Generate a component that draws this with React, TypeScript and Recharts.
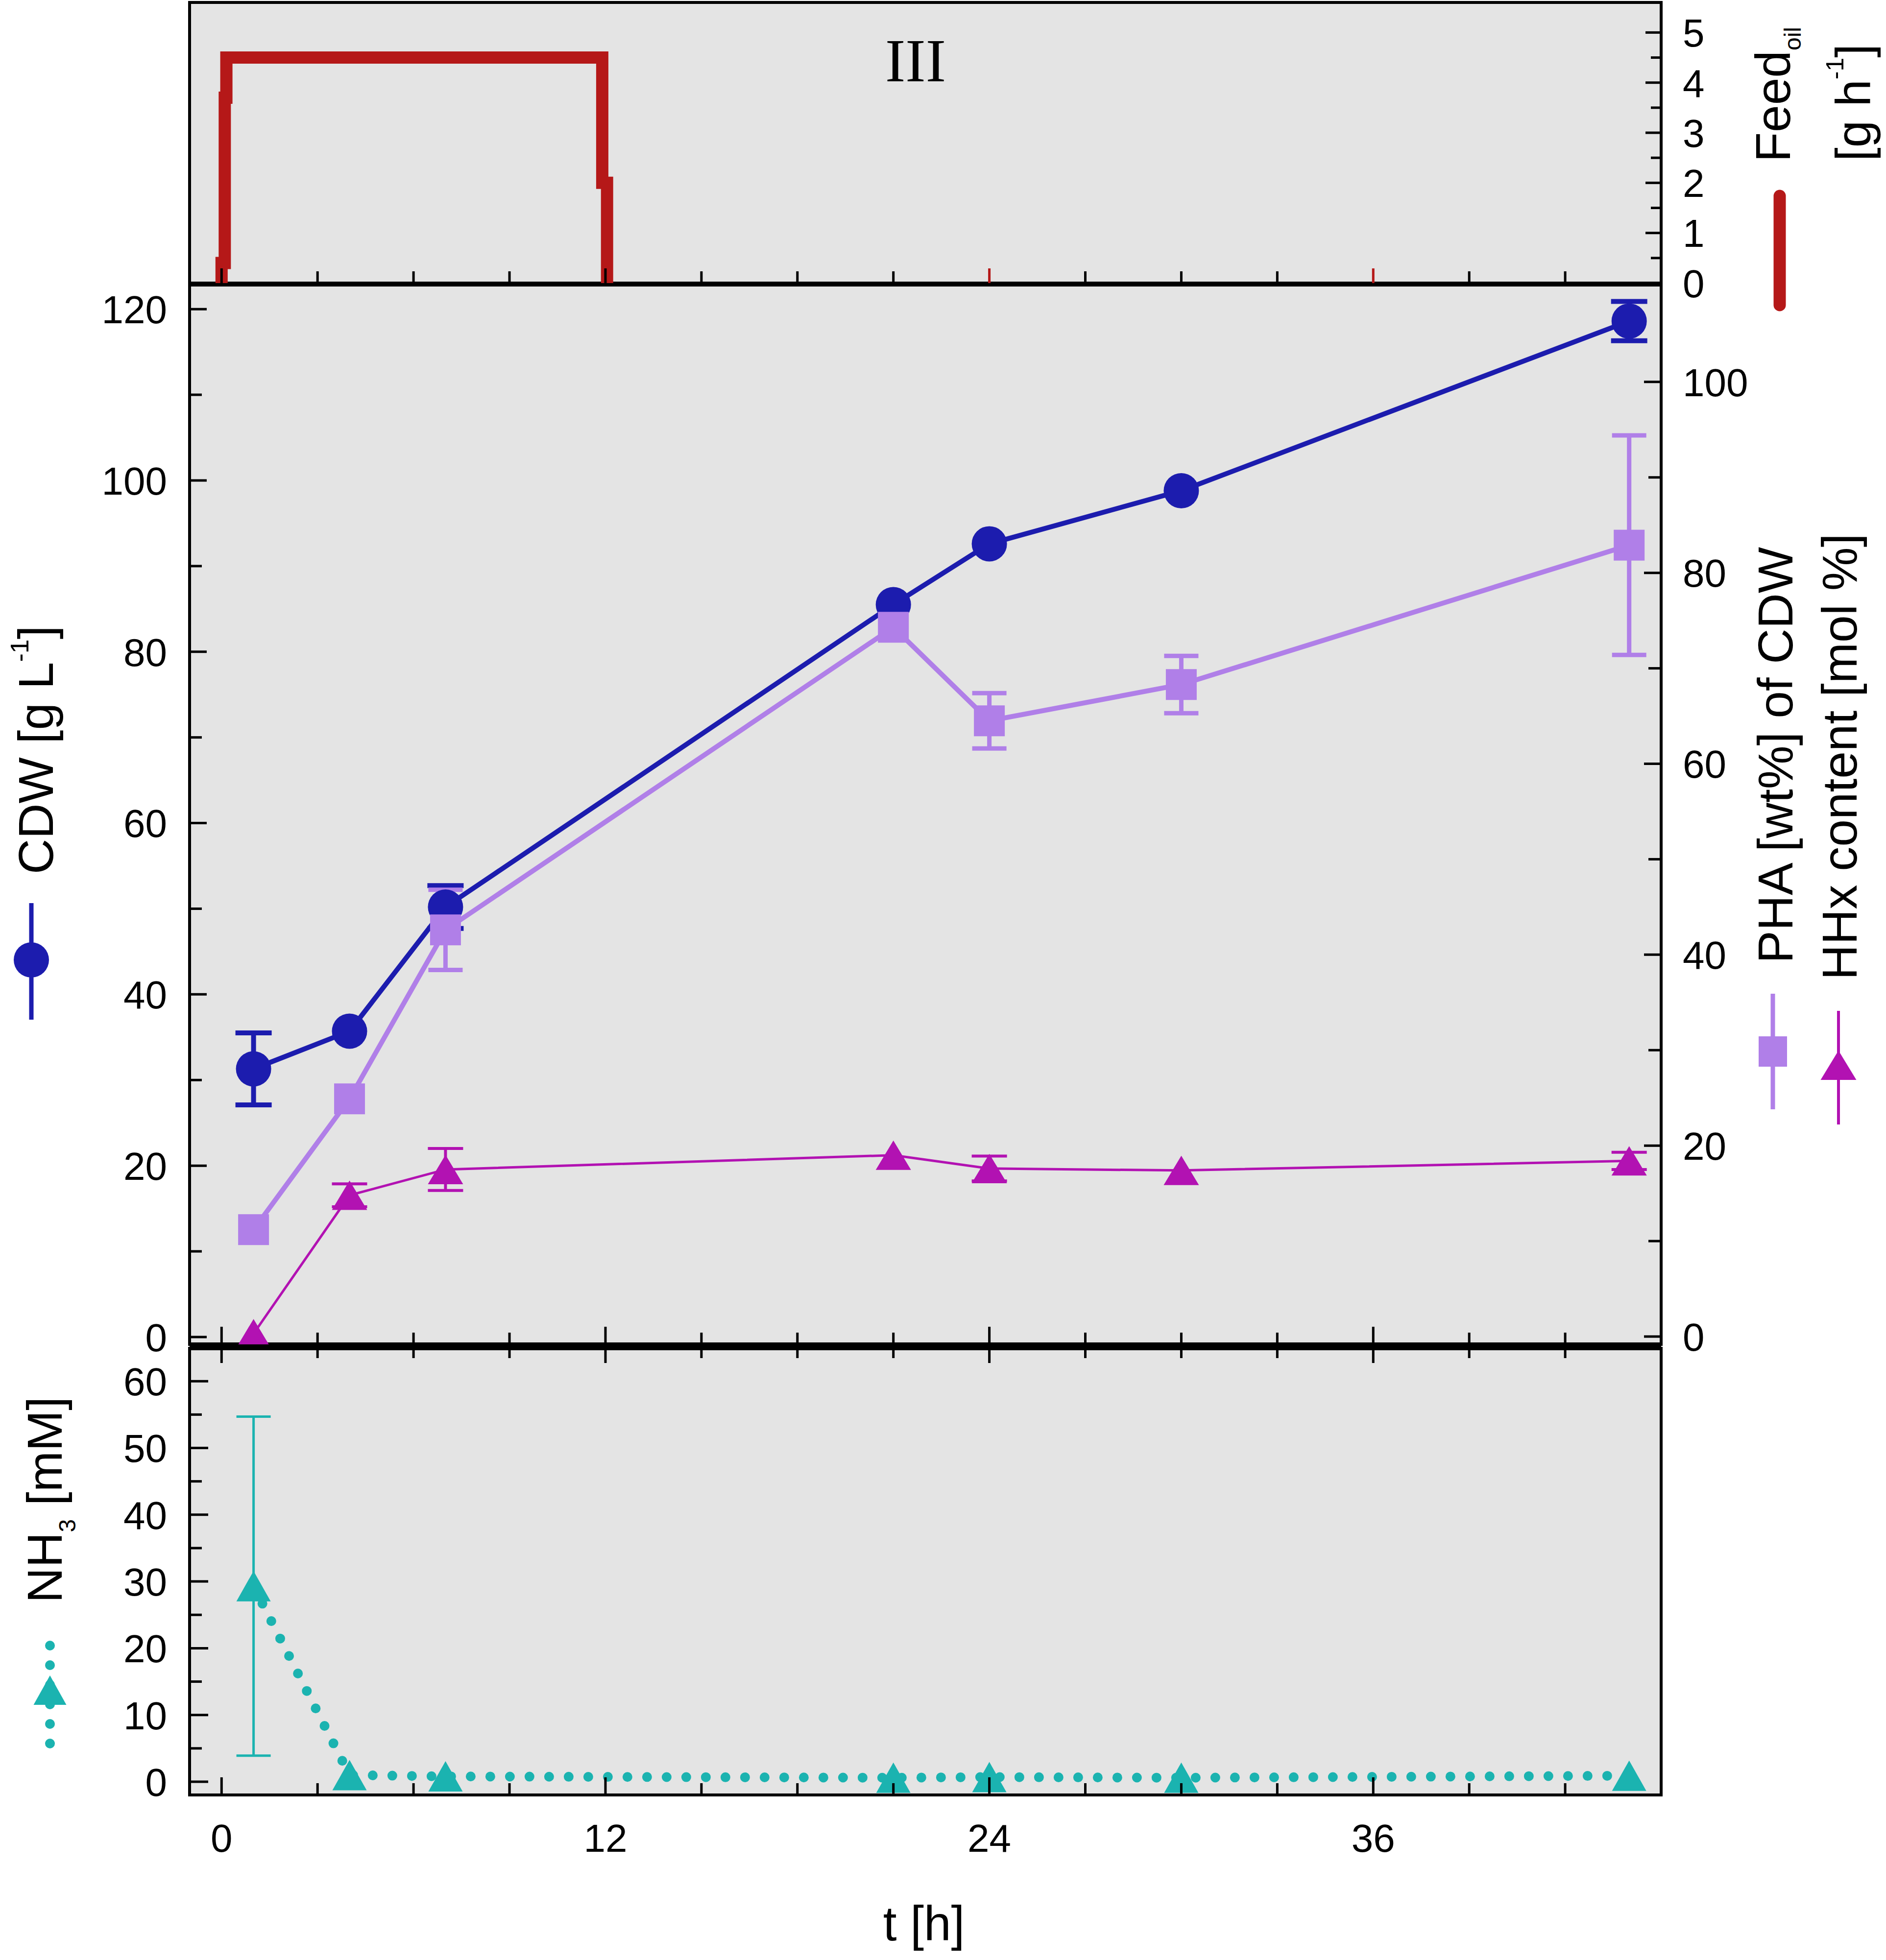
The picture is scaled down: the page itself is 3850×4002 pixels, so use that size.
import { ComposedChart, Line, XAxis, YAxis, CartesianGrid, ReferenceArea, ReferenceLine, ErrorBar } from 'recharts'

// sampling times [h] shared by all measured series
const TIMES = [1, 4, 7, 21, 24, 30, 44]
const CDW = [31.3, 35.7, 50.2, 85.5, 92.6, 98.8, 118.6]
const CDW_ERR = [4.2, null, 2.5, null, null, null, 2.3]
const PHA = [11.2, 24.9, 42.6, 74.3, 64.5, 68.3, 82.9]
const PHA_ERR = [null, null, 4.2, null, 2.9, 3.0, 11.5]
const HHX = [0.3, 14.8, 17.5, 19.0, 17.6, 17.4, 18.4]
const HHX_ERR = [null, 1.2, 2.2, null, 1.3, null, 0.9]
const NH3 = [29.3, 1.0, 0.8, 0.6, 0.7, 0.6, 0.9]
const NH3_ERR = [25.4, null, null, null, null, null, null]

// oil feed profile (step)
const FEED_T = [0, 0, 0.1, 0.1, 0.15, 0.15, 11.9, 11.9, 12.05, 12.05]
const FEED = [0, 0.4, 0.4, 3.7, 3.7, 4.5, 4.5, 2.0, 2.0, 0]

const X_TICKS = [0, 3, 6, 9, 12, 15, 18, 21, 24, 27, 30, 33, 36, 39, 42]
const X_DOMAIN = [-1, 45]
const FEED_TICKS = [0, 0.5, 1, 1.5, 2, 2.5, 3, 3.5, 4, 4.5, 5]
const FEED_DOMAIN = [0, 5.6]
const CDW_TICKS = [0, 10, 20, 30, 40, 50, 60, 70, 80, 90, 100, 110, 120]
const CDW_DOMAIN = [-0.86, 122.81]
const PCT_TICKS = [0, 10, 20, 30, 40, 50, 60, 70, 80, 90, 100]
const PCT_DOMAIN = [-0.82, 110.15]
const NH3_TICKS = [0, 5, 10, 15, 20, 25, 30, 35, 40, 45, 50, 55, 60]
const NH3_DOMAIN = [-1.98, 64.93]

const FONT = "'Liberation Sans', Arial, sans-serif"
const BLUE = '#1c1cae'
const LAV = '#b07fe8'
const MAG = '#b212b2'
const TEAL = '#1bb3b0'
const RED = '#b51818'
const BG = '#e4e4e4'

const feedRows = FEED_T.map((t, i) => ({ t, feed: FEED[i] }))
const midRows = TIMES.map((t, i) => ({
  t,
  cdw: CDW[i],
  cdwErr: CDW_ERR[i],
  pha: PHA[i],
  phaErr: PHA_ERR[i],
  hhx: HHX[i],
  hhxErr: HHX_ERR[i],
}))
const nh3Rows = TIMES.map((t, i) => ({ t, nh3: NH3[i], nh3Err: NH3_ERR[i] }))

type Side = 'bottom' | 'top' | 'left' | 'right'

// ticks point into the plot, labels sit outside
function makeTick(side: Side, isMajor: (v: number) => boolean, majorLen: number, minorLen: number,
  label: (v: number) => string | null, color: (v: number) => string = () => '#000') {
  return (p: any) => {
    const { x, y, payload } = p
    const v = payload.value
    const len = isMajor(v) ? majorLen : minorLen
    let x2 = x, y2 = y, tx = x, ty = y
    let anchor = 'middle'
    let dy = '0'
    if (side === 'bottom') { y2 = y - len; ty = y + 116 }
    if (side === 'top') { y2 = y + len }
    if (side === 'left') { x2 = x + len; tx = x - 46; anchor = 'end'; dy = '0.36em' }
    if (side === 'right') { x2 = x - len; tx = x + 44; anchor = 'start'; dy = '0.36em' }
    const txt = label(v)
    return (
      <g>
        <line x1={x} y1={y} x2={x2} y2={y2} stroke={color(v)} strokeWidth={5} />
        {txt !== null && (
          <text x={tx} y={ty} dy={dy} textAnchor={anchor} fontSize={80} fontFamily={FONT} fill="#000">{txt}</text>
        )}
      </g>
    )
  }
}

const noLabel = () => null
const every12 = (v: number) => v % 12 === 0

const squareDot = (color: string, size: number) => (p: any) => (
  <rect key={p.index} x={p.cx - size / 2} y={p.cy - size / 2} width={size} height={size} fill={color} />
)

const triDot = (color: string, w: number, h: number) => (p: any) => (
  <polygon key={p.index}
    points={`${p.cx},${p.cy - h / 2} ${p.cx - w / 2},${p.cy + h / 2} ${p.cx + w / 2},${p.cy + h / 2}`}
    fill={color} />
)

function Tri({ x, y, w, h, color }: { x: number; y: number; w: number; h: number; color: string }) {
  return <polygon points={`${x},${y - h / 2} ${x - w / 2},${y + h / 2} ${x + w / 2},${y + h / 2}`} fill={color} />
}

function FeedChart() {
  return (
    <ComposedChart width={3850} height={640} data={feedRows}
      margin={{ top: 5, right: 259, bottom: 52, left: 387 }}>
      <CartesianGrid yAxisId="r" horizontal={false} vertical={false} fill={BG} />
      <XAxis type="number" dataKey="t" domain={X_DOMAIN} ticks={X_TICKS} interval={0} height={10}
        tickSize={0} tickMargin={0} axisLine={false} tickLine={false} allowDataOverflow
        tick={makeTick('bottom', every12, 30, 24, noLabel, (v) => (v === 24 || v === 36 ? RED : '#000'))} />
      <YAxis yAxisId="r" orientation="right" type="number" domain={FEED_DOMAIN} ticks={FEED_TICKS} interval={0}
        width={200} tickSize={0} tickMargin={0} axisLine={false} tickLine={false} allowDataOverflow
        tick={makeTick('right', (v) => Number.isInteger(v), 32, 21, (v) => (Number.isInteger(v) ? String(v) : null))} />
      <Line yAxisId="r" type="linear" dataKey="feed" stroke={RED} strokeWidth={25} dot={false}
        strokeLinejoin="miter" isAnimationActive={false} />
      <ReferenceArea yAxisId="r" x1={X_DOMAIN[0]} x2={X_DOMAIN[1]} y1={FEED_DOMAIN[0]} y2={FEED_DOMAIN[1]}
        fill="none" stroke="#000" strokeWidth={6} ifOverflow="visible" />
    </ComposedChart>
  )
}

function MainChart() {
  return (
    <ComposedChart width={3850} height={2220} data={midRows}
      margin={{ top: 22, right: 259, bottom: 25, left: 187 }}>
      <CartesianGrid yAxisId="l" horizontal={false} vertical={false} fill={BG} />
      <XAxis type="number" dataKey="t" domain={X_DOMAIN} ticks={X_TICKS} interval={0} height={10}
        tickSize={0} tickMargin={0} axisLine={false} tickLine={false} allowDataOverflow
        tick={makeTick('bottom', every12, 36, 24, noLabel)} />
      <YAxis yAxisId="l" orientation="left" type="number" domain={CDW_DOMAIN} ticks={CDW_TICKS} interval={0}
        width={200} tickSize={0} tickMargin={0} axisLine={false} tickLine={false} allowDataOverflow
        tick={makeTick('left', (v) => v % 20 === 0, 35, 25, (v) => (v % 20 === 0 ? String(v) : null))} />
      <YAxis yAxisId="r" orientation="right" type="number" domain={PCT_DOMAIN} ticks={PCT_TICKS} interval={0}
        width={200} tickSize={0} tickMargin={0} axisLine={false} tickLine={false} allowDataOverflow
        tick={makeTick('right', (v) => v % 20 === 0, 35, 26, (v) => (v % 20 === 0 ? String(v) : null))} />
      <Line yAxisId="l" type="linear" dataKey="cdw" stroke={BLUE} strokeWidth={10}
        dot={{ r: 36, fill: BLUE, stroke: 'none' }} isAnimationActive={false}>
        <ErrorBar dataKey="cdwErr" width={37} stroke={BLUE} strokeWidth={10} isAnimationActive={false} />
      </Line>
      <Line yAxisId="r" type="linear" dataKey="pha" stroke={LAV} strokeWidth={10}
        dot={squareDot(LAV, 63)} isAnimationActive={false}>
        <ErrorBar dataKey="phaErr" width={35} stroke={LAV} strokeWidth={9} isAnimationActive={false} />
      </Line>
      <Line yAxisId="r" type="linear" dataKey="hhx" stroke={MAG} strokeWidth={5}
        dot={triDot(MAG, 72, 60)} isAnimationActive={false}>
        <ErrorBar dataKey="hhxErr" width={36} stroke={MAG} strokeWidth={6} isAnimationActive={false} />
      </Line>
      <ReferenceArea yAxisId="l" x1={X_DOMAIN[0]} x2={X_DOMAIN[1]} y1={CDW_DOMAIN[0]} y2={CDW_DOMAIN[1]}
        fill="none" stroke="#000" strokeWidth={6} ifOverflow="visible" />
      <ReferenceLine yAxisId="l" y={CDW_DOMAIN[0]} stroke="#000" strokeWidth={8} ifOverflow="visible" />
    </ComposedChart>
  )
}

function AmmoniaChart() {
  return (
    <ComposedChart width={3850} height={1272} data={nh3Rows}
      margin={{ top: 13, right: 459, bottom: 200, left: 187 }}>
      <CartesianGrid yAxisId="l" horizontal={false} vertical={false} fill={BG} />
      <XAxis type="number" dataKey="t" domain={X_DOMAIN} ticks={X_TICKS} interval={0} height={137}
        tickSize={0} tickMargin={0} axisLine={false} tickLine={false} allowDataOverflow
        tick={makeTick('bottom', every12, 36, 24, (v) => (v % 12 === 0 ? String(v) : null))} />
      <XAxis xAxisId="top" orientation="top" type="number" dataKey="t" domain={X_DOMAIN} ticks={X_TICKS}
        interval={0} height={10} tickSize={0} tickMargin={0} axisLine={false} tickLine={false} allowDataOverflow
        tick={makeTick('top', every12, 30, 20, noLabel)} />
      <YAxis yAxisId="l" orientation="left" type="number" domain={NH3_DOMAIN} ticks={NH3_TICKS} interval={0}
        width={200} tickSize={0} tickMargin={0} axisLine={false} tickLine={false} allowDataOverflow
        tick={makeTick('left', (v) => v % 10 === 0, 38, 25, (v) => (v % 10 === 0 ? String(v) : null))} />
      <Line yAxisId="l" type="linear" dataKey="nh3" stroke={TEAL} strokeWidth={20} strokeDasharray="0 40"
        strokeLinecap="round" dot={triDot(TEAL, 70, 62)} isAnimationActive={false}>
        <ErrorBar dataKey="nh3Err" width={35} stroke={TEAL} strokeWidth={5} isAnimationActive={false} />
      </Line>
      <ReferenceArea yAxisId="l" x1={X_DOMAIN[0]} x2={X_DOMAIN[1]} y1={NH3_DOMAIN[0]} y2={NH3_DOMAIN[1]}
        fill="none" stroke="#000" strokeWidth={6} ifOverflow="visible" />
      <ReferenceLine yAxisId="l" y={NH3_DOMAIN[1]} stroke="#000" strokeWidth={8} ifOverflow="visible" />
    </ComposedChart>
  )
}

function Labels() {
  return (
    <svg width={3850} height={4002} style={{ position: 'absolute', left: 0, top: 0, pointerEvents: 'none' }}>
      <g fontFamily={FONT} fill="#000" fontSize={100}>
        <text x={1869} y={166} textAnchor="middle" fontFamily="'Liberation Serif', 'Times New Roman', serif" fontSize={124}>III</text>
        <text x={1886} y={3962} textAnchor="middle">t [h]</text>

        <text transform="translate(108 1785) rotate(-90)">
          CDW [g L<tspan dy={-50} fontSize={52}>-1</tspan><tspan dy={50}>]</tspan>
        </text>
        <text transform="translate(126 3273) rotate(-90)">
          NH<tspan dy={28} fontSize={48}>3</tspan><tspan dy={-28}> [mM]</tspan>
        </text>
        <text transform="translate(3659 1967) rotate(-90)">PHA [wt%] of CDW</text>
        <text transform="translate(3790 2001) rotate(-90)">HHx content [mol %]</text>
        <text transform="translate(3654 331) rotate(-90)">
          Feed<tspan dy={22} fontSize={48}>oil</tspan>
        </text>
        <text transform="translate(3818 329) rotate(-90)">
          [g h<tspan dy={-55} fontSize={50}>-1</tspan><tspan dy={55}>]</tspan>
        </text>
      </g>

      {/* legend keys */}
      <line x1={64} y1={1844} x2={64} y2={2082} stroke={BLUE} strokeWidth={9} />
      <circle cx={64} cy={1960} r={36} fill={BLUE} />

      <line x1={3619} y1={2029} x2={3619} y2={2265} stroke={LAV} strokeWidth={9} />
      <rect x={3619 - 29} y={2147 - 31} width={58} height={62} fill={LAV} />

      <line x1={3753} y1={2064} x2={3753} y2={2296} stroke={MAG} strokeWidth={6} />
      <Tri x={3753} y={2175} w={73} h={60} color={MAG} />

      <line x1={102} y1={3360} x2={102} y2={3572} stroke={TEAL} strokeWidth={20}
        strokeDasharray="0 40" strokeLinecap="round" />
      <Tri x={102} y={3451} w={67} h={60} color={TEAL} />

      <line x1={3633} y1={400} x2={3633} y2={623} stroke={RED} strokeWidth={25} strokeLinecap="round" />
    </svg>
  )
}

export default function App() {
  return (
    <div style={{ position: 'absolute', left: 0, top: 0, width: 3850, height: 4002, background: '#fff' }}>
      <div style={{ position: 'absolute', left: 0, top: 0 }}>
        <FeedChart />
      </div>
      <div style={{ position: 'absolute', left: 0, top: 560 }}>
        <MainChart />
      </div>
      <div style={{ position: 'absolute', left: 0, top: 2730 }}>
        <AmmoniaChart />
      </div>
      <Labels />
    </div>
  )
}
